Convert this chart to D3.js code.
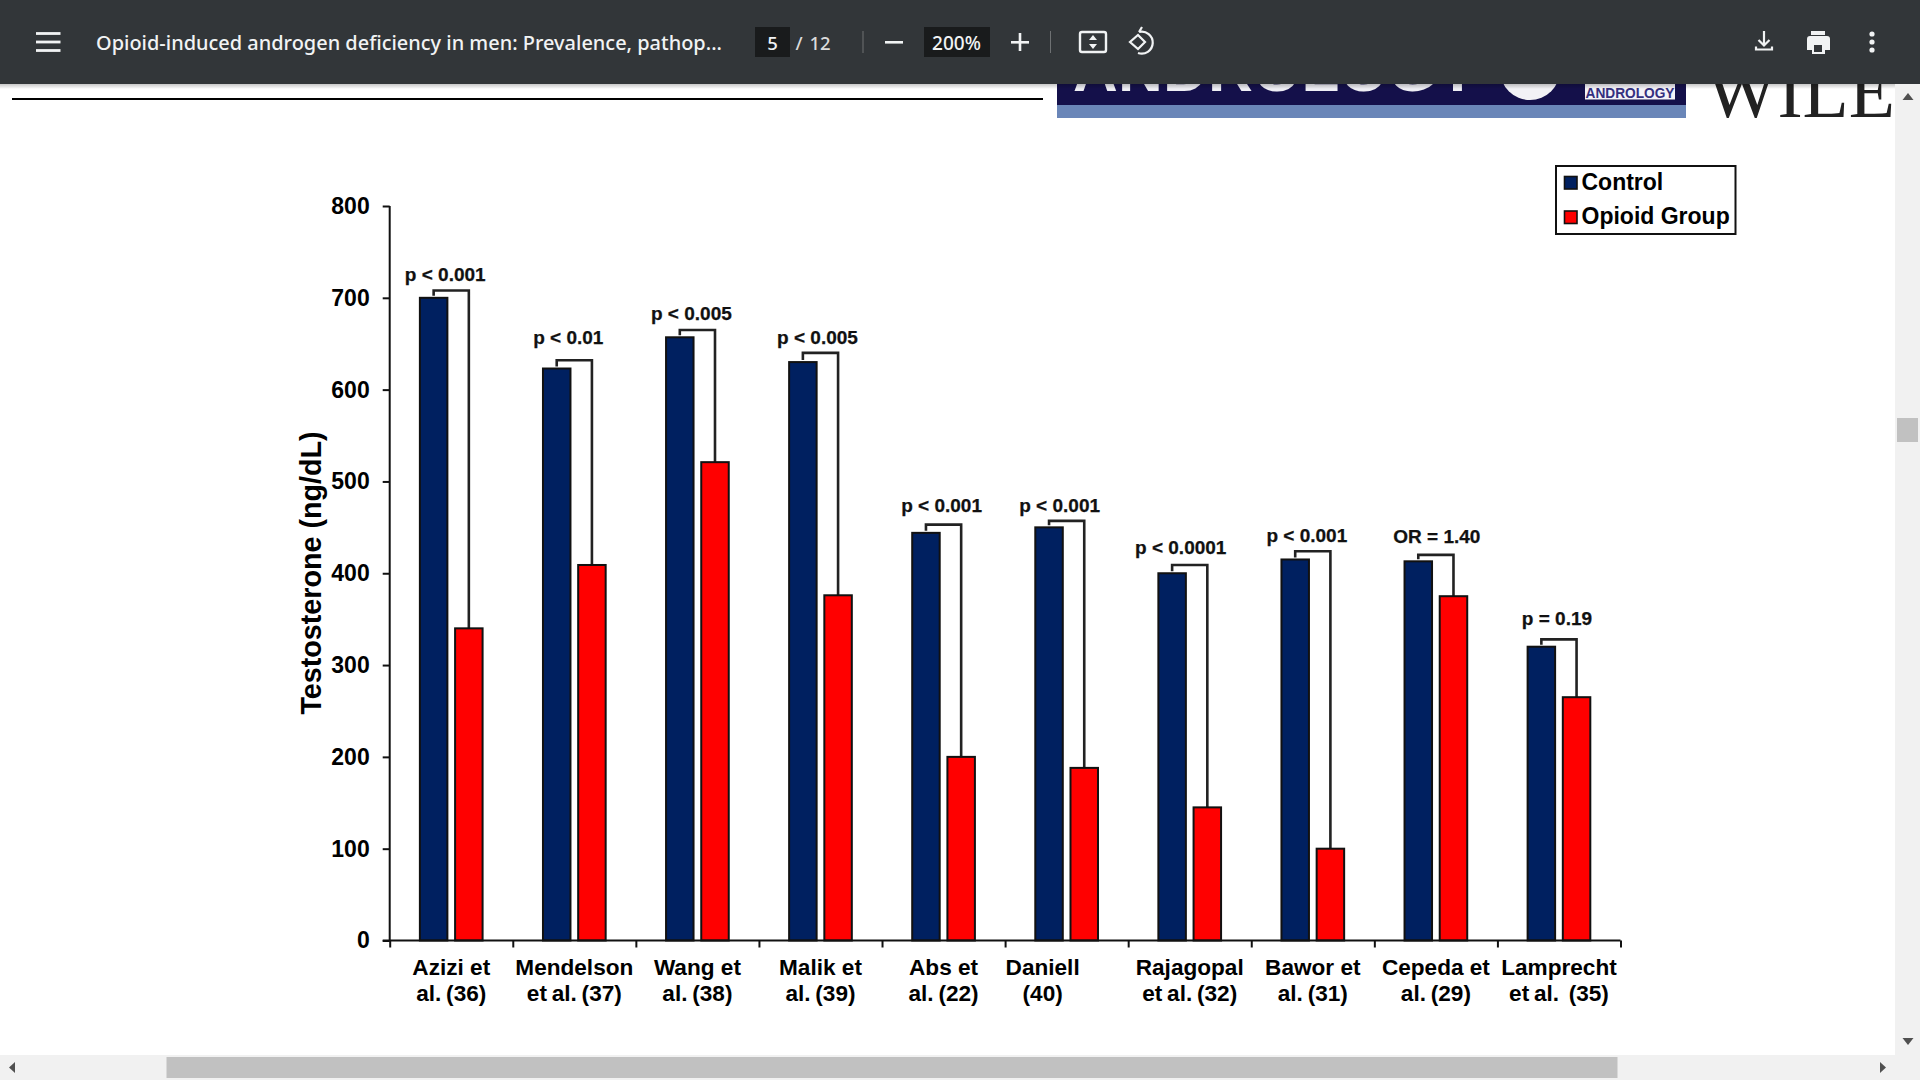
<!DOCTYPE html>
<html><head><meta charset="utf-8">
<script src="https://cdn.jsdelivr.net/npm/d3@7"></script>
<style>html,body{margin:0;padding:0;background:#fff;overflow:hidden}svg{display:block}text{font-family:"Liberation Sans",Arial,sans-serif}</style>
</head><body><svg id="c" width="1920" height="1080"></svg>
<script>
const studies=[["Azizi et","al. (36)"],["Mendelson","et al. (37)"],["Wang et","al. (38)"],["Malik et","al. (39)"],["Abs et","al. (22)"],["Daniell","(40)"],["Rajagopal","et al. (32)"],["Bawor et","al. (31)"],["Cepeda et","al. (29)"],["Lamprecht","et al.  (35)"]];
const control=[700,623,657,630,444,450,400,415,413,320];
const opioid=[340,409,521,376,200,188,145,100,375,265];
const bracketTop=[708,632,665,640,453,457,409,424,420,328];
const pLabels=["p < 0.001","p < 0.01","p < 0.005","p < 0.005","p < 0.001","p < 0.001","p < 0.0001","p < 0.001","OR = 1.40","p = 0.19"];
const pLabelLevel=[718,649.5,676,650,467,467,421,433.5,432.5,343.5];
const yTicks=[0,100,200,300,400,500,600,700,800];
const seriesNames=["Control","Opioid Group"];
const seriesColors=["#002060","#ff0000"];
const pLabelShift=[-6,-6,-6,-3,-2,-7,-9,-6,1,-2];
const catLabelShift=[0,0,0,0,0,-24,0,0,0,0];

const svg=d3.select("#c");
const L=389.7,R=1620.5,B=940.5,T=206;
const idx=d3.range(studies.length);
const x=d3.scaleBand().domain(idx).range([L,R]);
const xEdge=d3.scaleLinear().domain([0,studies.length]).range([L,R]);
const y=d3.scaleLinear().domain([0,800]).range([B,T]);
const sub=d3.scaleBand().domain([0,1]).range([-35.2,35.2]);
const barW=27.5;
const center=(i,s)=>x(i)+x.bandwidth()/2+sub(s)+sub.bandwidth()/2;

// page-header furniture behind the toolbar
svg.append("line").attr("x1",12).attr("x2",1043).attr("y1",99).attr("y2",99).attr("stroke","#000").attr("stroke-width",2);
svg.append("rect").attr("x",1057).attr("y",84).attr("width",629).attr("height",21).attr("fill","#14104a");
svg.append("rect").attr("x",1057).attr("y",105).attr("width",629).attr("height",13).attr("fill","#6a86b8");
svg.append("text").attr("x",1073).attr("y",91).attr("font-size",62).attr("font-weight",700).attr("fill","#eeeef4").attr("textLength",405).attr("lengthAdjust","spacing").text("ANDROLOGY");
svg.append("circle").attr("cx",1530).attr("cy",70).attr("r",30).attr("fill","#f2f2f6");
svg.append("rect").attr("x",1585).attr("y",84).attr("width",90).attr("height",15.5).attr("fill","#f4f3f8");
svg.append("text").attr("x",1585.5).attr("y",98).attr("font-size",14.5).attr("font-weight",700).attr("fill","#35307f").attr("textLength",89).attr("lengthAdjust","spacingAndGlyphs").text("ANDROLOGY");
svg.append("text").attr("x",1706).attr("y",117).attr("font-size",76).style("font-family","'Liberation Serif',serif").attr("fill","#222").attr("textLength",189).attr("lengthAdjust","spacingAndGlyphs").text("WILE");

// brackets
const g=svg.append("g");
g.selectAll(".br").data(idx).join("path").attr("class","br").attr("fill","none").attr("stroke","#222").attr("stroke-width",2.6)
 .attr("d",i=>{const a=center(i,0),b=center(i,1);return d3.line()([[a,y(control[i])-2],[a,y(bracketTop[i])],[b,y(bracketTop[i])],[b,y(opioid[i])]]);});

// bars
[control,opioid].forEach((vals,s)=>{
 g.selectAll(".b"+s).data(idx).join("rect").attr("class","b"+s)
  .attr("x",i=>center(i,s)-barW/2).attr("width",barW)
  .attr("y",i=>y(vals[i])).attr("height",i=>B-y(vals[i]))
  .attr("fill",seriesColors[s]).attr("stroke","#111").attr("stroke-width",2);
});

// p labels
g.selectAll(".p").data(idx).join("text").attr("class","p")
 .attr("x",i=>x(i)+x.bandwidth()/2+pLabelShift[i]).attr("y",i=>y(pLabelLevel[i])).attr("text-anchor","middle")
 .attr("font-size",19).attr("font-weight",700).attr("fill","#111").attr("stroke","#111").attr("stroke-width",.25).text(i=>pLabels[i]);

// axes
const ya=svg.append("g").attr("transform",`translate(${L},0)`).call(d3.axisLeft(y).tickValues(yTicks).tickSize(7).tickPadding(13));
ya.selectAll("text").attr("font-size",23).attr("font-weight",700).attr("fill","#000").style("font-family","'Liberation Sans',Arial,sans-serif");
const xa=svg.append("g").attr("transform",`translate(0,${B})`).call(d3.axisBottom(xEdge).tickValues(d3.range(studies.length+1)).tickSize(7).tickFormat(""));
[ya,xa].forEach(a=>{a.selectAll("path,line").attr("stroke","#111").attr("stroke-width",2);});
xa.select("path").attr("d",`M${L-7},0H${R}`);
ya.select("path").attr("d",`M0,${T}V${B}`);

const lab=svg.append("g");
lab.selectAll("text").data(idx).join("text").attr("text-anchor","middle").attr("font-size",22.6).attr("font-weight",700).attr("fill","#000")
 .attr("transform",i=>`translate(${x(i)+x.bandwidth()/2+catLabelShift[i]},975)`)
 .selectAll("tspan").data(i=>studies[i]).join("tspan").attr("x",0).attr("dy",(d,k)=>k?25.5:0).style("white-space","pre").style("word-spacing",(d,k)=>k?"-1.5px":"0").text(d=>d);

svg.append("text").attr("transform","translate(321,573) rotate(-90)").attr("text-anchor","middle").attr("font-size",28.7).attr("font-weight",700).attr("fill","#000").text("Testosterone (ng/dL)");

// legend
const lg=svg.append("g");
lg.append("rect").attr("x",1556).attr("y",166).attr("width",179.5).attr("height",68).attr("fill","#fff").attr("stroke","#111").attr("stroke-width",2);
const rowY=d3.scalePoint().domain(seriesNames).range([182.5,217]);
lg.selectAll(".s").data(seriesNames).join("rect").attr("class","s").attr("x",1564.5).attr("width",12.5).attr("height",12.5)
 .attr("y",d=>rowY(d)-6).attr("fill",(d,i)=>seriesColors[i]).attr("stroke","#111").attr("stroke-width",1.6);
lg.selectAll(".t").data(seriesNames).join("text").attr("class","t").attr("x",1581.5).attr("y",d=>rowY(d)+7).attr("font-size",23).attr("font-weight",700).attr("fill","#000").text(d=>d);

// scrollbars
svg.append("rect").attr("x",1895).attr("y",84).attr("width",25).attr("height",996).attr("fill","#f1f1f1");
svg.append("rect").attr("x",0).attr("y",1055).attr("width",1920).attr("height",25).attr("fill","#f1f1f1");
svg.append("rect").attr("x",1897).attr("y",418).attr("width",21).attr("height",24).attr("fill","#c1c1c1");
svg.append("rect").attr("x",166.5).attr("y",1057).attr("width",1451).attr("height",21).attr("fill","#c1c1c1");
const tri=(pts)=>svg.append("path").attr("d",d3.line()(pts)+"Z").attr("fill","#505050");
tri([[1908,93],[1902.5,100],[1913.5,100]]);
tri([[1908,1045],[1902.5,1038],[1913.5,1038]]);
tri([[9,1067.5],[15,1062],[15,1073]]);
tri([[1886,1067.5],[1880,1062],[1880,1073]]);

// toolbar
svg.append("rect").attr("x",0).attr("y",0).attr("width",1920).attr("height",84).attr("fill","#323639");
const sh=svg.append("linearGradient").attr("id","sh").attr("x1",0).attr("x2",0).attr("y1",0).attr("y2",1);
sh.append("stop").attr("offset",0).attr("stop-color","#000").attr("stop-opacity",.22);
sh.append("stop").attr("offset",1).attr("stop-color","#000").attr("stop-opacity",0);
svg.append("rect").attr("x",0).attr("y",84).attr("width",1895).attr("height",5).attr("fill","url(#sh)");
const wt="#f1f3f4";
const tx=(s,xx,anchor,fs,len)=>{const t=svg.append("text").attr("x",xx).attr("y",50).attr("fill",wt).attr("font-size",fs).attr("text-anchor",anchor).style("font-family","'Noto Sans',sans-serif").style("font-weight",500).text(s);if(len)t.attr("textLength",len).attr("lengthAdjust","spacingAndGlyphs");return t;};
[33.5,42,50.5].forEach(v=>svg.append("rect").attr("x",36).attr("y",v-1.4).attr("width",24.5).attr("height",2.8).attr("fill",wt));
tx("Opioid-induced androgen deficiency in men: Prevalence, pathop...",96,"start",20.5,626).attr("y",50);
svg.append("rect").attr("x",755).attr("y",27).attr("width",35).attr("height",30).attr("fill","#191b1c");
tx("5",772.5,"middle",18.5);
tx("/",799,"middle",18.5).attr("fill","#dcdcdc");
tx("12",820,"middle",18.5).attr("fill","#dcdcdc");
svg.append("rect").attr("x",862.5).attr("y",31).attr("width",1).attr("height",22).attr("fill","#6e7173");
svg.append("rect").attr("x",885).attr("y",41).attr("width",18).attr("height",2.6).attr("fill",wt);
svg.append("rect").attr("x",924).attr("y",27).attr("width",66).attr("height",30).attr("fill","#191b1c");
tx("200%",956.5,"middle",19);
svg.append("rect").attr("x",1011).attr("y",41).attr("width",18).attr("height",2.6).attr("fill",wt);
svg.append("rect").attr("x",1018.7).attr("y",33).attr("width",2.6).attr("height",18).attr("fill",wt);
svg.append("rect").attr("x",1050).attr("y",31).attr("width",1).attr("height",22).attr("fill","#6e7173");
const ic=(d,w)=>svg.append("path").attr("d",d).attr("fill","none").attr("stroke",wt).attr("stroke-width",w||2.4);
svg.append("rect").attr("x",1080).attr("y",32).attr("width",26).attr("height",20).attr("rx",2).attr("fill","none").attr("stroke",wt).attr("stroke-width",2.4);
svg.append("path").attr("d","M1093,35l-4,5h8ZM1093,49l-4,-5h8Z").attr("fill",wt);
ic("M1139,33 a11,11 0 1 1 -1,21 M1139,33l3,-5",2.2).attr("transform","translate(0,-1)");
ic("M1138,35 L1145,42 L1138,49 L1130,42 Z",2.2);
ic("M1764,31V45 M1758.5,40l5.5,5.5l5.5,-5.5 M1756,46.5v3h16v-3",2.2);
svg.append("path").attr("d","M1810,36h17a3,3 0 0 1 3,3v11h-5v4h-13v-4h-5v-11a3,3 0 0 1 3,-3Z M1811,31h14v4h-14Z").attr("fill",wt);
svg.append("rect").attr("x",1814).attr("y",45).attr("width",8).attr("height",7).attr("fill","#323639");
[34,42,50].forEach(v=>svg.append("circle").attr("cx",1872).attr("cy",v).attr("r",2.6).attr("fill",wt));
</script></body></html>
